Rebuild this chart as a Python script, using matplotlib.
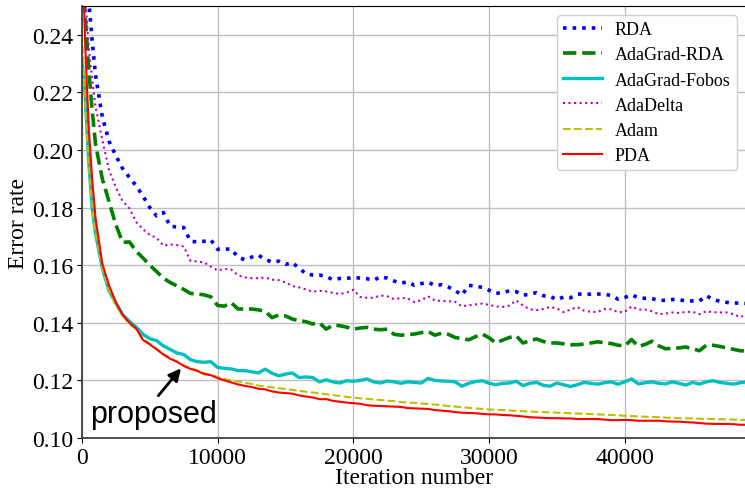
import matplotlib
matplotlib.use("Agg")
import matplotlib.pyplot as plt

# iteration grid
iters = [0, 250, 500, 750] + list(range(1000, 49001, 500))

rda = [0.280, 0.262, 0.252, 0.238,
       0.2260, 0.2115, 0.2030, 0.1980, 0.1935, 0.1905, 0.1875, 0.1840, 0.1800, 0.1771,
       0.1783, 0.1735, 0.1733, 0.1731, 0.1683, 0.1681, 0.1683, 0.1688, 0.1655, 0.1656,
       0.1656, 0.1628, 0.1619, 0.1628, 0.1635, 0.1620, 0.1611, 0.1614, 0.1603, 0.1609,
       0.1590, 0.1570, 0.1566, 0.1566, 0.1560, 0.1550, 0.1554, 0.1554, 0.1558, 0.1555,
       0.1553, 0.1548, 0.1560, 0.1555, 0.1545, 0.1538, 0.1542, 0.1530, 0.1536, 0.1541,
       0.1530, 0.1532, 0.1524, 0.1512, 0.1496, 0.1530, 0.1527, 0.1523, 0.1513, 0.1502,
       0.1505, 0.1511, 0.1508, 0.1496, 0.1499, 0.1505, 0.1494, 0.1492, 0.1480, 0.1490,
       0.1487, 0.1499, 0.1501, 0.1499, 0.1500, 0.1499, 0.1495, 0.1482, 0.1488, 0.1497,
       0.1487, 0.1485, 0.1484, 0.1478, 0.1478, 0.1481, 0.1480, 0.1476, 0.1476, 0.1476,
       0.1494, 0.1481, 0.1475, 0.1471, 0.1469, 0.1468, 0.1467]

adagrad_rda = [0.270, 0.246, 0.228, 0.214,
       0.2020, 0.1900, 0.1820, 0.1740, 0.1679, 0.1681, 0.1648, 0.1625, 0.1600, 0.1578,
       0.1555, 0.1540, 0.1528, 0.1516, 0.1502, 0.1500, 0.1497, 0.1490, 0.1460, 0.1458,
       0.1470, 0.1448, 0.1448, 0.1448, 0.1445, 0.1440, 0.1418, 0.1427, 0.1424, 0.1413,
       0.1408, 0.1404, 0.1396, 0.1400, 0.1378, 0.1392, 0.1390, 0.1385, 0.1378, 0.1382,
       0.1384, 0.1378, 0.1376, 0.1378, 0.1360, 0.1357, 0.1359, 0.1361, 0.1366, 0.1370,
       0.1357, 0.1364, 0.1360, 0.1349, 0.1345, 0.1341, 0.1352, 0.1361, 0.1348, 0.1330,
       0.1340, 0.1349, 0.1355, 0.1330, 0.1338, 0.1344, 0.1335, 0.1330, 0.1330, 0.1327,
       0.1324, 0.1324, 0.1326, 0.1330, 0.1334, 0.1331, 0.1328, 0.1322, 0.1320, 0.1342,
       0.1318, 0.1325, 0.1336, 0.1320, 0.1310, 0.1311, 0.1313, 0.1316, 0.1310, 0.1303,
       0.1322, 0.1322, 0.1318, 0.1313, 0.1308, 0.1303, 0.1302]

adagrad_fobos = [0.232, 0.218, 0.196, 0.180,
       0.1710, 0.1590, 0.1510, 0.1470, 0.1428, 0.1405, 0.1385, 0.1360, 0.1345, 0.1338,
       0.1320, 0.1308, 0.1295, 0.1290, 0.1272, 0.1265, 0.1263, 0.1265, 0.1245, 0.1242,
       0.1240, 0.1234, 0.1234, 0.1230, 0.1226, 0.1239, 0.1225, 0.1216, 0.1222, 0.1226,
       0.1210, 0.1212, 0.1210, 0.1195, 0.1202, 0.1195, 0.1191, 0.1199, 0.1197, 0.1200,
       0.1205, 0.1195, 0.1191, 0.1198, 0.1195, 0.1190, 0.1195, 0.1193, 0.1191, 0.1207,
       0.1200, 0.1198, 0.1197, 0.1195, 0.1180, 0.1190, 0.1196, 0.1199, 0.1190, 0.1185,
       0.1190, 0.1191, 0.1197, 0.1182, 0.1190, 0.1193, 0.1183, 0.1180, 0.1191, 0.1185,
       0.1179, 0.1185, 0.1193, 0.1190, 0.1187, 0.1192, 0.1195, 0.1187, 0.1195, 0.1205,
       0.1188, 0.1192, 0.1195, 0.1190, 0.1188, 0.1195, 0.1190, 0.1184, 0.1193, 0.1187,
       0.1195, 0.1199, 0.1193, 0.1190, 0.1187, 0.1192, 0.1195]

adadelta = [0.270, 0.253, 0.2355, 0.2245,
       0.2150, 0.2035, 0.1930, 0.1870, 0.1822, 0.1797, 0.1750, 0.1725, 0.1705, 0.1695,
       0.1668, 0.1672, 0.1670, 0.1665, 0.1615, 0.1613, 0.1610, 0.1595, 0.1582, 0.1587,
       0.1585, 0.1565, 0.1558, 0.1555, 0.1555, 0.1557, 0.1550, 0.1548, 0.1540, 0.1528,
       0.1523, 0.1516, 0.1508, 0.1511, 0.1509, 0.1504, 0.1500, 0.1505, 0.1515, 0.1490,
       0.1487, 0.1487, 0.1495, 0.1492, 0.1482, 0.1486, 0.1485, 0.1472, 0.1478, 0.1492,
       0.1478, 0.1476, 0.1475, 0.1473, 0.1457, 0.1461, 0.1464, 0.1467, 0.1462, 0.1457,
       0.1455, 0.1460, 0.1478, 0.1460, 0.1447, 0.1444, 0.1448, 0.1455, 0.1450, 0.1437,
       0.1446, 0.1455, 0.1442, 0.1438, 0.1438, 0.1448, 0.1447, 0.1437, 0.1438, 0.1457,
       0.1446, 0.1446, 0.1440, 0.1430, 0.1432, 0.1436, 0.1434, 0.1438, 0.1438, 0.1430,
       0.1440, 0.1437, 0.1436, 0.1436, 0.1430, 0.1420, 0.1428]

adam = [0.240, 0.215, 0.195, 0.180,
       0.1710, 0.1590, 0.1510, 0.1460, 0.1425, 0.1395, 0.1378, 0.1345, 0.1328, 0.1310,
       0.1292, 0.1278, 0.1265, 0.1252, 0.1243, 0.1235, 0.1225, 0.1220, 0.1212, 0.1205,
       0.1200, 0.1196, 0.1192, 0.1188, 0.1182, 0.1179, 0.1176, 0.1173, 0.1170, 0.1167,
       0.1164, 0.1161, 0.1158, 0.1155, 0.1152, 0.1149, 0.1146, 0.1143, 0.1140, 0.1138,
       0.1136, 0.1134, 0.1132, 0.1130, 0.1128, 0.1125, 0.1123, 0.1122, 0.1120, 0.1118,
       0.1116, 0.1114, 0.1111, 0.1109, 0.1107, 0.1105, 0.1103, 0.1101, 0.1099, 0.1098,
       0.1097, 0.1096, 0.1094, 0.1093, 0.1092, 0.1091, 0.1090, 0.1089, 0.1088, 0.1087,
       0.1086, 0.1085, 0.1084, 0.1083, 0.1082, 0.1081, 0.1080, 0.1079, 0.1077, 0.1076,
       0.1075, 0.1074, 0.1073, 0.1072, 0.1071, 0.1070, 0.1069, 0.1068, 0.1068, 0.1067,
       0.1066, 0.1066, 0.1065, 0.1065, 0.1064, 0.1063, 0.1063]

pda = [0.275, 0.235, 0.208, 0.190,
       0.1765, 0.1605, 0.1530, 0.1470, 0.1428, 0.1400, 0.1380, 0.1340, 0.1325, 0.1308,
       0.1290, 0.1275, 0.1265, 0.1250, 0.1240, 0.1233, 0.1222, 0.1218, 0.1208, 0.1200,
       0.1193, 0.1186, 0.1181, 0.1177, 0.1171, 0.1169, 0.1162, 0.1158, 0.1156, 0.1154,
       0.1148, 0.1144, 0.1141, 0.1135, 0.1135, 0.1129, 0.1126, 0.1123, 0.1121, 0.1119,
       0.1114, 0.1112, 0.1111, 0.1110, 0.1109, 0.1108, 0.1104, 0.1103, 0.1102, 0.1101,
       0.1097, 0.1095, 0.1093, 0.1090, 0.1088, 0.1087, 0.1086, 0.1084, 0.1082, 0.1082,
       0.1080, 0.1079, 0.1077, 0.1075, 0.1072, 0.1071, 0.1070, 0.1069, 0.1069, 0.1068,
       0.1068, 0.1066, 0.1066, 0.1066, 0.1066, 0.1064, 0.1062, 0.1062, 0.1063, 0.1062,
       0.1060, 0.1060, 0.1060, 0.1060, 0.1058, 0.1057, 0.1057, 0.1055, 0.1054, 0.1052,
       0.1050, 0.1049, 0.1049, 0.1049, 0.1048, 0.1046, 0.1046]

labels = ["RDA", "AdaGrad-RDA", "AdaGrad-Fobos", "AdaDelta", "Adam", "PDA"]
xticks = [0, 10000, 20000, 30000, 40000]
yticks = [0.10, 0.12, 0.14, 0.16, 0.18, 0.20, 0.22, 0.24]

plt.rcParams["font.family"] = ["Liberation Serif", "DejaVu Serif"]

fig = plt.figure(figsize=(7.45, 4.89), dpi=100)
ax = fig.add_axes([0.110, 0.1022, 0.8926, 0.8835])

series = [rda, adagrad_rda, adagrad_fobos, adadelta, adam, pda]
styles = [
    dict(color="b", ls=":", lw=2.6),
    dict(color="g", ls="--", lw=2.6),
    dict(color="c", ls="-", lw=2.4),
    dict(color="m", ls=":", lw=1.5),
    dict(color="y", ls="--", lw=1.5),
    dict(color="r", ls="-", lw=1.5),
]
for ys, lab, st in zip(series, labels, styles):
    ax.plot(iters, ys, label=lab, **st)

ax.set_xlim(0, 49000)
ax.set_ylim(0.10, 0.25)
ax.set_xticks(xticks)
ax.set_yticks(yticks)
ax.set_yticklabels([f"{v:.2f}" for v in yticks])
ax.tick_params(labelsize=17, pad=3)
ax.grid(True, color="#bfbfbf", lw=1.0)
ax.set_axisbelow(True)
for s in ("left", "bottom"):
    ax.spines[s].set_color("#404040")
    ax.spines[s].set_linewidth(1.3)
ax.set_xlabel("Iteration number", fontsize=17, labelpad=-1)
ax.set_ylabel("Error rate", fontsize=17, labelpad=2)

ax.legend(loc="upper right", fontsize=13, framealpha=1.0, edgecolor="#d0d0d0",
          handlelength=2.15, handletextpad=0.7, borderpad=0.35, labelspacing=0.45,
          borderaxespad=0,
          bbox_to_anchor=(737 / 745, 1 - 16 / 489), bbox_transform=fig.transFigure)

ax.annotate("proposed", xy=(7300, 0.1242), xytext=(600, 0.1085),
            fontsize=22, family=["Liberation Sans", "DejaVu Sans"],
            ha="left", va="center",
            arrowprops=dict(arrowstyle="-|>", color="black", lw=2,
                            mutation_scale=18, shrinkA=0, shrinkB=0,
                            relpos=(0.52, 1.0)))

fig.savefig("out.png", dpi=100)
